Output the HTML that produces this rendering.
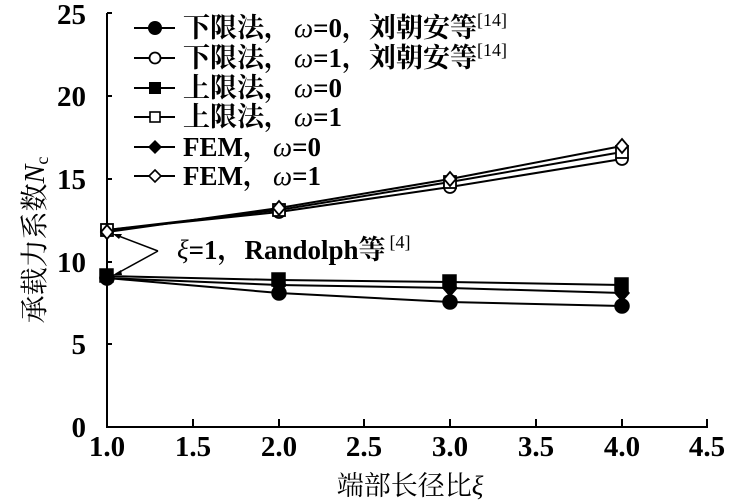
<!DOCTYPE html>
<html><head><meta charset="utf-8"><style>
html,body{margin:0;padding:0;background:#fff;}
svg{display:block;font-family:"Liberation Serif","Noto Serif CJK SC",serif;}
</style></head><body>
<svg width="736" height="501" viewBox="0 0 736 501" xmlns="http://www.w3.org/2000/svg">
<g stroke="#000" stroke-width="2" fill="none">
<line x1="107" y1="13" x2="107" y2="427"/>
<line x1="106" y1="427" x2="708" y2="427"/>
<line x1="107" y1="13" x2="112" y2="13"/>
<line x1="107" y1="96" x2="112" y2="96"/>
<line x1="107" y1="179" x2="112" y2="179"/>
<line x1="107" y1="262" x2="112" y2="262"/>
<line x1="107" y1="344" x2="112" y2="344"/>
<line x1="193" y1="427" x2="193" y2="419"/>
<line x1="279" y1="427" x2="279" y2="419"/>
<line x1="364" y1="427" x2="364" y2="419"/>
<line x1="450" y1="427" x2="450" y2="419"/>
<line x1="536" y1="427" x2="536" y2="419"/>
<line x1="622" y1="427" x2="622" y2="419"/>
<line x1="707" y1="427" x2="707" y2="419"/>
</g>
<g font-size="29" font-weight="bold" text-anchor="end" fill="#000">
<text x="86" y="24">25</text><text x="86" y="106">20</text><text x="86" y="189">15</text>
<text x="86" y="272">10</text><text x="86" y="354">5</text><text x="86" y="437">0</text>
</g>
<g font-size="29" font-weight="bold" text-anchor="middle" fill="#000">
<text x="107" y="456">1.0</text><text x="193" y="456">1.5</text><text x="279" y="456">2.0</text>
<text x="364" y="456">2.5</text><text x="450" y="456">3.0</text><text x="536" y="456">3.5</text>
<text x="622" y="456">4.0</text><text x="707" y="456">4.5</text>
</g>
<text x="410" y="495" font-size="27" text-anchor="middle">端部长径比<tspan font-style="italic">ξ</tspan></text>
<text transform="translate(44,240) rotate(-90)" font-size="28" text-anchor="middle">承载力系数<tspan font-style="italic">N</tspan><tspan font-size="18" dy="4">c</tspan></text>

<g stroke="#000" stroke-width="2" fill="none">
<polyline points="107,276 279,280 450,282 622,285"/>
<polyline points="107,278 279,285 450,288 622,293"/>
<polyline points="107,278 279,293 450,302 622,306"/>
<polyline points="107,230 279,212 450,187 622,159"/>
<polyline points="107,230 279,210 450,182 622,152"/>
<polyline points="107,232 279,208 450,179 622,146"/>
</g>
<g fill="#000" stroke="#000" stroke-width="1.5">
<rect x="100" y="269" width="13" height="13"/><rect x="272" y="273" width="13" height="13"/><rect x="443" y="275" width="13" height="13"/><rect x="615" y="278" width="13" height="13"/>
<path d="M107 270l7 8-7 8-7-8z M279 277l7 8-7 8-7-8z M450 280l7 8-7 8-7-8z M622 285l7 8-7 8-7-8z"/>
<circle cx="107" cy="278" r="7"/><circle cx="279" cy="293" r="7"/><circle cx="450" cy="302" r="7"/><circle cx="622" cy="306" r="7"/>
</g>
<g fill="#fff" stroke="#000" stroke-width="1.8">
<circle cx="107" cy="230" r="6"/><circle cx="279" cy="212" r="6"/><circle cx="450" cy="187" r="6"/><circle cx="622" cy="159" r="6"/>
<rect x="101" y="224" width="12" height="12"/><rect x="273" y="204" width="12" height="12"/><rect x="444" y="176" width="12" height="12"/><rect x="616" y="146" width="12" height="12"/>
<path d="M107 225l6 7-6 7-6-7z M279 201l6 7-6 7-6-7z M450 172l6 7-6 7-6-7z M622 139l6 7-6 7-6-7z"/>
</g>

<g stroke="#000" stroke-width="1.5" fill="none">
<line x1="158" y1="251" x2="116" y2="235"/>
<line x1="158" y1="251" x2="116" y2="274"/>
</g>
<path d="M113 234l9 0-3 5z M113 275l8-5 1 5z" fill="#000"/>
<text x="177" y="259" font-size="27" font-weight="bold"><tspan font-style="italic" font-weight="normal">ξ</tspan>=1，Randolph等<tspan font-size="18" dy="-11" font-weight="normal" dx="4">[4]</tspan></text>

<g stroke="#000" stroke-width="2">
<line x1="134" y1="28" x2="175" y2="28"/><line x1="134" y1="58" x2="175" y2="58"/>
<line x1="134" y1="88" x2="175" y2="88"/><line x1="134" y1="117" x2="175" y2="117"/>
<line x1="134" y1="147" x2="175" y2="147"/><line x1="134" y1="176" x2="175" y2="176"/>
</g>
<circle cx="155" cy="28" r="7" fill="#000"/>
<circle cx="155" cy="58" r="5.5" fill="#fff" stroke="#000" stroke-width="1.8"/>
<rect x="149" y="82" width="12" height="12" fill="#000"/>
<rect x="150" y="112" width="10" height="10" fill="#fff" stroke="#000" stroke-width="1.6"/>
<path d="M155 140l7 7-7 7-7-7z" fill="#000"/>
<path d="M155 170l6 6-6 6-6-6z" fill="#fff" stroke="#000" stroke-width="1.6"/>
<g font-size="27" font-weight="bold" fill="#000">
<text x="183" y="37">下限法，<tspan font-style="italic" font-weight="normal" dx="3">ω</tspan>=0，刘朝安等<tspan font-size="18" dy="-11" font-weight="normal">[14]</tspan></text>
<text x="183" y="67">下限法，<tspan font-style="italic" font-weight="normal" dx="3">ω</tspan>=1，刘朝安等<tspan font-size="18" dy="-11" font-weight="normal">[14]</tspan></text>
<text x="183" y="97">上限法，<tspan font-style="italic" font-weight="normal" dx="3">ω</tspan>=0</text>
<text x="183" y="126">上限法，<tspan font-style="italic" font-weight="normal" dx="3">ω</tspan>=1</text>
<text x="183" y="156">FEM，<tspan font-style="italic" font-weight="normal" dx="3">ω</tspan>=0</text>
<text x="183" y="185">FEM，<tspan font-style="italic" font-weight="normal" dx="3">ω</tspan>=1</text>
</g>
</svg>
</body></html>
